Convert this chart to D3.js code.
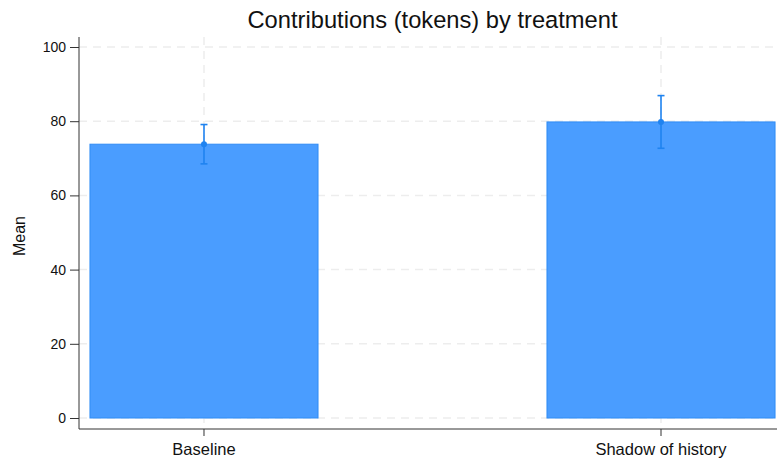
<!DOCTYPE html>
<html>
<head>
<meta charset="utf-8">
<script src="https://cdn.jsdelivr.net/npm/d3@7"></script>
<style>
  html, body { margin: 0; padding: 0; background: #fff; }
  svg { display: block; font-family: "Liberation Sans", Arial, sans-serif; }
</style>
</head>
<body>
<svg id="chart" width="777" height="459"></svg>
<script>
// Mean contributions per treatment, with 95% confidence bounds
const categories = ["Baseline", "Shadow of history"];
const means = [73.8, 79.8];
const ciLow = [68.5, 72.7];
const ciHigh = [79.1, 86.9];
const yTicks = [0, 20, 40, 60, 80, 100];

const svg = d3.select("#chart");
const W = 777, H = 459;
const plotLeft = 79, plotBottom = 429, plotTop = 37;

const y = d3.scaleLinear().domain([0, 100]).range([418, 47]);
const x = d3.scaleBand().domain(categories).range([plotLeft, 786])
  .paddingInner(0.501).paddingOuter(0.024);

// Grid lines
const grid = svg.append("g");
grid.selectAll("line.h").data(yTicks).join("line")
  .attr("x1", plotLeft).attr("x2", W)
  .attr("y1", d => y(d)).attr("y2", d => y(d))
  .attr("stroke", "#ededed").attr("stroke-width", 1.5)
  .attr("stroke-dasharray", "8,6");
grid.selectAll("line.v").data(categories).join("line")
  .attr("x1", d => x(d) + x.bandwidth() / 2).attr("x2", d => x(d) + x.bandwidth() / 2)
  .attr("y1", plotTop).attr("y2", plotBottom)
  .attr("stroke", "#ededed").attr("stroke-width", 1.5)
  .attr("stroke-dasharray", "8,6");

// Bars
svg.append("g").selectAll("rect").data(categories).join("rect")
  .attr("x", d => x(d))
  .attr("width", x.bandwidth())
  .attr("y", (d, i) => y(means[i]))
  .attr("height", (d, i) => y(0) - y(means[i]))
  .attr("fill", "#4a9dff")
  .attr("stroke", "#2f8cf5").attr("stroke-width", 1);

// Error bars
const eb = svg.append("g").attr("stroke", "#1f83f0").attr("fill", "#1f83f0");
categories.forEach((c, i) => {
  const cx = x(c) + x.bandwidth() / 2;
  eb.append("line").attr("x1", cx).attr("x2", cx)
    .attr("y1", y(ciLow[i])).attr("y2", y(ciHigh[i])).attr("stroke-width", 1.6);
  [ciLow[i], ciHigh[i]].forEach(v => {
    eb.append("line").attr("x1", cx - 3.5).attr("x2", cx + 3.5)
      .attr("y1", y(v)).attr("y2", y(v)).attr("stroke-width", 1.6);
  });
  eb.append("circle").attr("cx", cx).attr("cy", y(means[i])).attr("r", 3).attr("stroke", "none");
});

// Y axis
const yAxis = svg.append("g").attr("transform", `translate(${plotLeft},0)`)
  .call(d3.axisLeft(y).tickValues(yTicks).tickSize(9).tickPadding(4));
yAxis.select(".domain").remove();
yAxis.selectAll("text").attr("font-size", 14).attr("fill", "#111");
yAxis.selectAll("line").attr("stroke", "#333");
svg.append("line").attr("x1", plotLeft).attr("x2", plotLeft).attr("y1", plotTop).attr("y2", plotBottom)
  .attr("stroke", "#333").attr("stroke-width", 1);

// X axis
const xAxis = svg.append("g").attr("transform", `translate(0,${plotBottom})`)
  .call(d3.axisBottom(x).tickSize(7).tickPadding(5));
xAxis.select(".domain").remove();
xAxis.selectAll("text").attr("font-size", 16.5).attr("fill", "#111")
  .attr("y", 26).attr("dy", 0);
xAxis.selectAll("line").attr("stroke", "#333");
svg.append("line").attr("x1", plotLeft).attr("x2", W).attr("y1", plotBottom).attr("y2", plotBottom)
  .attr("stroke", "#333").attr("stroke-width", 1);

// Axis title
svg.append("text").attr("transform", "translate(24.5,236) rotate(-90)")
  .attr("text-anchor", "middle").attr("font-size", 16).attr("fill", "#111").text("Mean");

// Chart title
svg.append("text").attr("x", 432.5).attr("y", 28)
  .attr("text-anchor", "middle").attr("font-size", 23.7).attr("fill", "#111")
  .text("Contributions (tokens) by treatment");
</script>
</body>
</html>
